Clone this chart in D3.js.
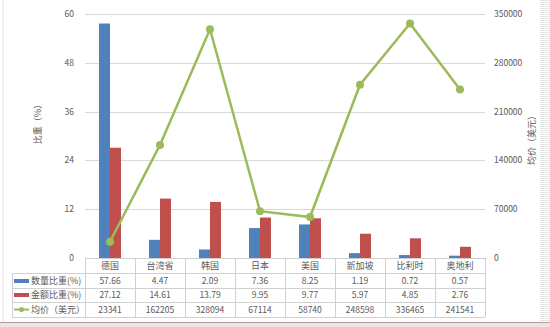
<!DOCTYPE html>
<html><head><meta charset="utf-8">
<script src="https://cdn.jsdelivr.net/npm/d3@7"></script>
<style>body{margin:0;background:#fff}svg{display:block}text{font-family:"Noto Sans CJK SC","Noto Sans",sans-serif;fill:#595959}</style>
</head><body><svg id="c" width="550" height="327"></svg>
<script>
const categories = ["德国","台湾省","韩国","日本","美国","新加坡","比利时","奥地利"];
const qtyShare = [57.66,4.47,2.09,7.36,8.25,1.19,0.72,0.57];
const amtShare = [27.12,14.61,13.79,9.95,9.77,5.97,4.85,2.76];
const avgPrice = [23341,162205,328094,67114,58740,248598,336465,241541];
const leftTicks = [0,12,24,36,48,60];
const rightTicks = [0,70000,140000,210000,280000,350000];
const seriesNames = ["数量比重(%)","金额比重(%)","均价（美元）"];
const colors = ["#4F81BD","#C0504D","#9BBB59"];

const svg = d3.select("#c");
const L=85, R=485, T=14, B=258;
const x = d3.scaleBand().domain(categories).range([L,R]);
const yL = d3.scaleLinear().domain([0,60]).range([B,T]);
const yR = d3.scaleLinear().domain([0,350000]).range([B,T]);

// frame decorations
svg.append("line").attr("x1",3).attr("x2",3).attr("y1",0).attr("y2",322).attr("stroke","#ccc").attr("stroke-dasharray","1,1");
const st = svg.append("g");
for(let yy=0; yy<322; yy+=2) st.append("line").attr("x1",540).attr("x2",550).attr("y1",yy+0.5).attr("y2",yy+0.5).attr("stroke","#e4e4e4");
svg.append("rect").attr("x",0).attr("y",322).attr("width",550).attr("height",5).attr("fill","#efe3e3");
svg.append("line").attr("x1",0).attr("x2",550).attr("y1",322.5).attr("y2",322.5).attr("stroke","#b99a9a");

// grid
svg.append("g").selectAll("line").data(leftTicks.slice(1)).join("line")
  .attr("x1",L).attr("x2",R).attr("y1",d=>Math.round(yL(d))+0.5).attr("y2",d=>Math.round(yL(d))+0.5)
  .attr("stroke","#d9d9d9");

// axes labels
svg.append("g").selectAll("text").data(leftTicks).join("text")
  .attr("x",74).attr("y",d=>yL(d)+3).attr("text-anchor","end").attr("font-size",8.5).text(d=>d);
svg.append("g").selectAll("text").data(rightTicks).join("text")
  .attr("x",494).attr("y",d=>yR(d)+3).attr("text-anchor","start").attr("font-size",8.5).text(d=>d);
svg.append("text").attr("transform","translate(41,122) rotate(-90)").attr("text-anchor","middle").attr("font-size",9).text("比重（%）");
svg.append("text").attr("transform","translate(535,138) rotate(-90)").attr("text-anchor","middle").attr("font-size",9).text("均价（美元）");

// bars
const bw = 11;
const g = svg.append("g");
g.selectAll(".q").data(categories).join("rect")
  .attr("x",(d)=>x(d)+x.bandwidth()/2-bw).attr("width",bw)
  .attr("y",(d,i)=>yL(qtyShare[i])).attr("height",(d,i)=>B-yL(qtyShare[i])).attr("fill",colors[0]);
g.selectAll(".a").data(categories).join("rect")
  .attr("x",(d)=>x(d)+x.bandwidth()/2).attr("width",bw)
  .attr("y",(d,i)=>yL(amtShare[i])).attr("height",(d,i)=>B-yL(amtShare[i])).attr("fill",colors[1]);

// line
const line = d3.line().x((d,i)=>x(categories[i])+x.bandwidth()/2).y(d=>yR(d));
svg.append("path").datum(avgPrice).attr("d",line).attr("fill","none").attr("stroke",colors[2]).attr("stroke-width",2.5);
svg.append("g").selectAll("circle").data(avgPrice).join("circle")
  .attr("cx",(d,i)=>x(categories[i])+x.bandwidth()/2).attr("cy",d=>yR(d)).attr("r",4).attr("fill",colors[2]);

// table
const rowsY = [258,273,288,302,317];
const tg = svg.append("g").attr("stroke","#d0d0d0");
tg.append("line").attr("x1",L).attr("x2",R).attr("y1",258.5).attr("y2",258.5);
[273,288,302,317].forEach(yy=>tg.append("line").attr("x1",12).attr("x2",R).attr("y1",yy+0.5).attr("y2",yy+0.5));
tg.append("line").attr("x1",12.5).attr("x2",12.5).attr("y1",273).attr("y2",317);
const bounds = categories.map(c=>x(c)).concat([R]);
tg.selectAll(".v").data(bounds).join("line").attr("x1",d=>d+0.5).attr("x2",d=>d+0.5).attr("y1",258).attr("y2",317);

svg.append("g").selectAll("text").data(categories).join("text")
  .attr("x",d=>x(d)+x.bandwidth()/2).attr("y",268.5).attr("text-anchor","middle").attr("font-size",9).text(d=>d);
const rows = [qtyShare.map(v=>v.toFixed(2)), amtShare.map(v=>v.toFixed(2)), avgPrice.map(String)];
const rowMid = [280.5,295,309.5];
rows.forEach((r,ri)=>{
  svg.append("g").selectAll("text").data(r).join("text")
    .attr("x",(d,i)=>x(categories[i])+x.bandwidth()/2).attr("y",rowMid[ri]+3).attr("text-anchor","middle").attr("font-size",8.5).text(d=>d);
  svg.append("text").attr("x",31).attr("y",rowMid[ri]+3).attr("font-size",9).text(seriesNames[ri]);
});
// legend keys
svg.append("rect").attr("x",14).attr("y",279).attr("width",15).attr("height",4).attr("fill",colors[0]);
svg.append("rect").attr("x",14).attr("y",293).attr("width",15).attr("height",4).attr("fill",colors[1]);
svg.append("line").attr("x1",14).attr("x2",29).attr("y1",309.5).attr("y2",309.5).attr("stroke",colors[2]).attr("stroke-width",2);
svg.append("circle").attr("cx",21.5).attr("cy",309.5).attr("r",2.5).attr("fill",colors[2]);
</script></body></html>
